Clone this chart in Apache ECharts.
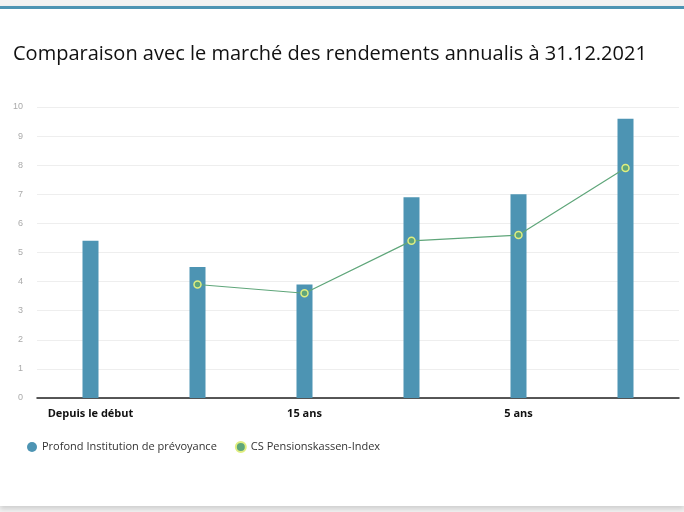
<!DOCTYPE html>
<html><head><meta charset="utf-8">
<script src="https://cdn.jsdelivr.net/npm/echarts@6/dist/echarts.min.js"></script>
<style>
html,body{margin:0;padding:0;background:#f2f2f2;}
#card{position:absolute;left:0;top:0;width:684px;height:503px;background:#fff;border-top:3px solid #4d94b3;box-shadow:0 3px 5px rgba(0,0,0,0.15);top:6px;height:497px;}
#c{position:absolute;left:0;top:0;width:684px;height:497px;}
</style></head><body>
<div id="card"><div id="c"></div></div>
<script>
const categories=['Depuis le début','20 ans','15 ans','10 ans','5 ans','3 ans'];
const profond=[5.4,4.5,3.9,6.9,7.0,9.6];
const csIndex=[null,3.9,3.6,5.4,5.6,7.9];
const chart=echarts.init(document.getElementById('c'));
chart.setOption({
 animation:false,
 title:{text:'Comparaison avec le marché des rendements annualis à 31.12.2021',left:8,top:30,textStyle:{fontFamily:'Open Sans',fontWeight:'normal',fontSize:20,color:'#111'}},
 grid:{left:37,right:5,top:98,bottom:108},
 legend:{left:22,top:427,itemWidth:10,itemHeight:10,itemGap:18,icon:'circle',textStyle:{fontFamily:'Open Sans',fontSize:11,color:'#333'},
  data:[{name:'Profond Institution de prévoyance',itemStyle:{color:'#4d94b3'}},{name:'CS Pensionskassen-Index',itemStyle:{color:'#5fa67a'}}]},
 xAxis:{type:'category',data:categories,axisTick:{show:false},axisLine:{lineStyle:{color:'#222',width:1.5}},
  axisLabel:{fontFamily:'Open Sans',fontWeight:'bold',fontSize:11,color:'#111',margin:10}},
 yAxis:{type:'value',min:0,max:10,interval:1,axisLabel:{fontSize:9,color:'#aaa',margin:14},splitLine:{lineStyle:{color:'#eee'}}},
 series:[
  {name:'Profond Institution de prévoyance',type:'bar',data:profond,barWidth:16,itemStyle:{color:'#4d94b3'}},
  {name:'CS Pensionskassen-Index',type:'line',data:csIndex,symbol:'circle',symbolSize:7,lineStyle:{color:'#5fa67a',width:1.2},
   itemStyle:{color:'#5fa67a',borderColor:'#d8e87a',borderWidth:1.2},
   emphasis:{disabled:true}}
 ]
});
// hollow-looking markers
chart.setOption({series:[{},{itemStyle:{color:'#5fa67a',borderColor:'#e0ee80',borderWidth:1.5}}]});
</script></body></html>
